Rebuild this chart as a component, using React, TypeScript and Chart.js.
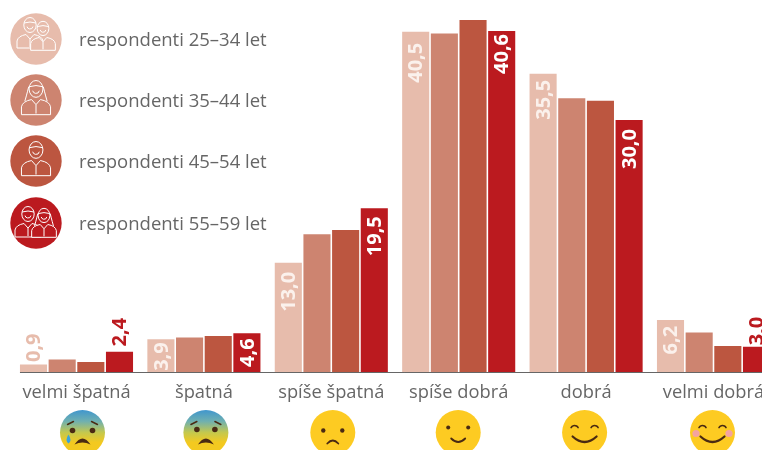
import React, { useEffect, useRef } from "react";
import { Chart, registerables } from "chart.js";

Chart.register(...registerables);

const categories = ["velmi špatná", "špatná", "spíše špatná", "spíše dobrá", "dobrá", "velmi dobrá"];
const seriesNames = ["respondenti 25–34 let", "respondenti 35–44 let", "respondenti 45–54 let", "respondenti 55–59 let"];
const values2534 = [0.9, 3.9, 13.0, 40.5, 35.5, 6.2];
const values3544 = [1.5, 4.1, 16.4, 40.3, 32.6, 4.7];
const values4554 = [1.2, 4.3, 16.9, 41.9, 32.3, 3.1];
const values5559 = [2.4, 4.6, 19.5, 40.6, 30.0, 3.0];
const colors = ["#E7BCAC", "#CD8470", "#BC5640", "#BB1A1F"];

// Distance from a bar's top to the end of its rotated label (negative: label sits above the bar).
const labelGaps: Record<number, number[]> = {
  0: [-31, 3, 9, 11, 6, 6],
  3: [-34, 5, 8, 3, 9, -30],
};
const legendCentersY = [39, 100, 161, 223];
const emojiOffsets = [6, 2, 1.5, -0.5, -1.5, -1];
const FONT = "'Open Sans', sans-serif";

const fmt = (v: number) => v.toFixed(1).replace(".", ",");

function line(c: CanvasRenderingContext2D, pts: number[][]) {
  c.beginPath();
  pts.forEach((p, i) => (i ? c.lineTo(p[0], p[1]) : c.moveTo(p[0], p[1])));
  c.stroke();
}

function figure(c: CanvasRenderingContext2D, x: number, y: number, s: number, long: boolean, bg: string) {
  // body
  c.fillStyle = bg;
  c.beginPath();
  c.moveTo(x - 13 * s, y + 14 * s);
  c.lineTo(x - 13 * s, y + 7 * s);
  c.quadraticCurveTo(x - 12 * s, y + 2 * s, x - 4 * s, y + 0.5 * s);
  c.lineTo(x, y + 5 * s);
  c.lineTo(x + 4 * s, y + 0.5 * s);
  c.quadraticCurveTo(x + 12 * s, y + 2 * s, x + 13 * s, y + 7 * s);
  c.lineTo(x + 13 * s, y + 14 * s);
  c.closePath();
  c.fill();
  c.stroke();
  line(c, [[x, y + 5 * s], [x, y + 13 * s]]);
  // head
  c.beginPath();
  c.ellipse(x, y - 9 * s, 6.2 * s, 7.5 * s, 0, 0, Math.PI * 2);
  c.fill();
  c.stroke();
  // hair line
  c.beginPath();
  c.moveTo(x - 6 * s, y - 11 * s);
  c.quadraticCurveTo(x, y - 13 * s, x + 6 * s, y - 11 * s);
  c.stroke();
  if (long) {
    c.beginPath();
    c.moveTo(x - 6.5 * s, y - 11 * s);
    c.quadraticCurveTo(x - 9 * s, y - 1 * s, x - 10 * s, y + 2 * s);
    c.moveTo(x + 6.5 * s, y - 11 * s);
    c.quadraticCurveTo(x + 9 * s, y - 1 * s, x + 10 * s, y + 2 * s);
    c.stroke();
  }
  // smile
  c.beginPath();
  c.arc(x, y - 8 * s, 3 * s, 0.2, Math.PI - 0.2);
  c.stroke();
}

function drawEmoji(c: CanvasRenderingContext2D, i: number, x: number, y: number) {
  const r = 22.5;
  c.save();
  c.translate(x, y);
  let fill: string | CanvasGradient = "#FDCB22";
  if (i < 2) {
    const g = c.createLinearGradient(0, -r, 0, r);
    g.addColorStop(0, "#4096CE");
    g.addColorStop(0.25, "#6FB0B0");
    g.addColorStop(0.5, "#C4C84E");
    g.addColorStop(0.72, "#F3C920");
    fill = g;
  }
  c.fillStyle = fill;
  c.beginPath();
  c.arc(0, 0, r, 0, Math.PI * 2);
  c.fill();
  const dark = "#4A2A12";
  c.strokeStyle = dark;
  c.fillStyle = dark;
  c.lineCap = "round";
  const dot = (dx: number, dy: number, rr: number) => {
    c.beginPath();
    c.arc(dx, dy, rr, 0, Math.PI * 2);
    c.fill();
  };
  const smile = (w: number, dy: number, d: number, lw: number) => {
    c.lineWidth = lw;
    c.beginPath();
    c.moveTo(-w / 2, dy);
    c.quadraticCurveTo(0, dy + d, w / 2, dy);
    c.stroke();
  };
  const openFrown = (dy: number) => {
    c.beginPath();
    c.moveTo(-8, dy + 5);
    c.quadraticCurveTo(0, dy - 7, 8, dy + 5);
    c.quadraticCurveTo(0, dy + 1, -8, dy + 5);
    c.fill();
  };
  const brows = (w: number, lw: number) => {
    c.lineWidth = lw;
    line(c, [[-w - 4, -8], [-w + 2, -11]]);
    line(c, [[w + 4, -8], [w - 2, -11]]);
  };
  if (i === 0) {
    brows(11, 1.4);
    dot(-10, -2, 2.8);
    dot(10, -2, 2.8);
    openFrown(7);
    c.fillStyle = "#3BA4DC";
    c.beginPath();
    c.moveTo(-14, 2);
    c.quadraticCurveTo(-10, 8, -14, 11);
    c.quadraticCurveTo(-18, 8, -14, 2);
    c.fill();
  } else if (i === 1) {
    brows(11, 1.4);
    dot(-9, -3, 2.8);
    dot(9, -3, 2.8);
    openFrown(7);
  } else if (i === 2) {
    dot(-9.5, -2, 2.2);
    dot(9.5, -2, 2.2);
    smile(11, 11, -6, 1.8);
  } else if (i === 3) {
    dot(-10, -5, 2);
    dot(10, -5, 2);
    smile(14, 6, 7, 1.8);
  } else {
    c.lineWidth = 1.6;
    [-10, 10].forEach((dx) => {
      c.beginPath();
      c.arc(dx, -3, 4, Math.PI + 0.5, -0.5);
      c.stroke();
    });
    smile(24, 4, 11, 2.2);
    if (i === 5) {
      c.fillStyle = "#F4A3A0";
      dot(-16.5, 1, 3.6);
      dot(16.5, 1, 3.6);
    }
  }
  c.restore();
}

const decorPlugin = {
  id: "decor",
  afterDatasetsDraw(chart: any) {
    const c: CanvasRenderingContext2D = chart.ctx;
    const { bottom } = chart.chartArea;
    const firstBar = chart.getDatasetMeta(0).data[0];
    // baseline
    c.save();
    c.strokeStyle = "#666666";
    c.lineWidth = 1;
    line(c, [[firstBar.x - firstBar.width / 2, bottom + 0.5], [chart.width, bottom + 0.5]]);
    c.restore();

    // value labels
    c.save();
    c.font = `700 20px ${FONT}`;
    c.textBaseline = "middle";
    c.textAlign = "right";
    Object.keys(labelGaps).forEach((k) => {
      const idx = Number(k);
      const meta = chart.getDatasetMeta(idx);
      meta.data.forEach((bar: any, j: number) => {
        const gap = labelGaps[idx][j];
        c.save();
        c.translate(bar.x, bar.y + gap);
        c.rotate(-Math.PI / 2);
        c.fillStyle = gap < 0 ? colors[idx] : idx === 0 ? "#FBF1EC" : "#FFFFFF";
        c.fillText(fmt(chart.data.datasets[idx].data[j]), 0, 1);
        c.restore();
      });
    });
    c.restore();

    // legend
    c.save();
    seriesNames.forEach((name, i) => {
      const y = legendCentersY[i];
      const bg = colors[i];
      c.fillStyle = bg;
      c.beginPath();
      c.arc(36, y, 25.7, 0, Math.PI * 2);
      c.fill();
      c.strokeStyle = "#FFFFFF";
      c.lineWidth = 1;
      if (i === 0) {
        figure(c, 30, y - 5, 1, false, bg);
        figure(c, 43, y - 2, 0.95, false, bg);
      } else if (i === 1) {
        figure(c, 36, y - 1, 1.12, true, bg);
      } else if (i === 2) {
        figure(c, 36, y - 1, 1.12, false, bg);
      } else {
        figure(c, 28, y, 1, false, bg);
        figure(c, 44, y + 1, 0.95, true, bg);
      }
      c.fillStyle = "#666666";
      c.font = `400 18.5px ${FONT}`;
      c.textAlign = "left";
      c.textBaseline = "middle";
      c.fillText(name, 79, y + 2);
    });
    c.restore();

    // smileys under the categories
    const xs = chart.scales.x;
    categories.forEach((_, i) => {
      drawEmoji(c, i, xs.getPixelForValue(i) + emojiOffsets[i], 432.5);
    });
  },
};

export default function App() {
  const ref = useRef<HTMLCanvasElement>(null);
  useEffect(() => {
    const chart = new Chart(ref.current!, {
      type: "bar",
      data: {
        labels: categories,
        datasets: [values2534, values3544, values4554, values5559].map((data, i) => ({
          label: seriesNames[i],
          data,
          backgroundColor: colors[i],
          categoryPercentage: 0.9,
          barPercentage: 0.945,
        })),
      },
      options: {
        responsive: false,
        animation: false,
        layout: { padding: { left: 12.8, right: 12.8, top: 2.4, bottom: 0 } },
        plugins: { legend: { display: false }, title: { display: false }, tooltip: { enabled: false } },
        scales: {
          y: { display: false, min: 0, max: 44 },
          x: {
            afterFit: (s: any) => {
              s.height = 78;
            },
            grid: { display: false, drawTicks: false },
            border: { display: false },
            ticks: {
              color: "#666666",
              font: { family: "'Open Sans', sans-serif", size: 18.3 },
              padding: 10,
              autoSkip: false,
              maxRotation: 0,
              minRotation: 0,
            },
          },
        },
      },
      plugins: [decorPlugin],
    } as any);
    return () => chart.destroy();
  }, []);
  return (
    <div style={{ position: "absolute", left: 0, top: 0, width: 762, height: 450, overflow: "hidden", background: "#fff" }}>
      <canvas ref={ref} width={790} height={450} style={{ display: "block" }} />
    </div>
  );
}
